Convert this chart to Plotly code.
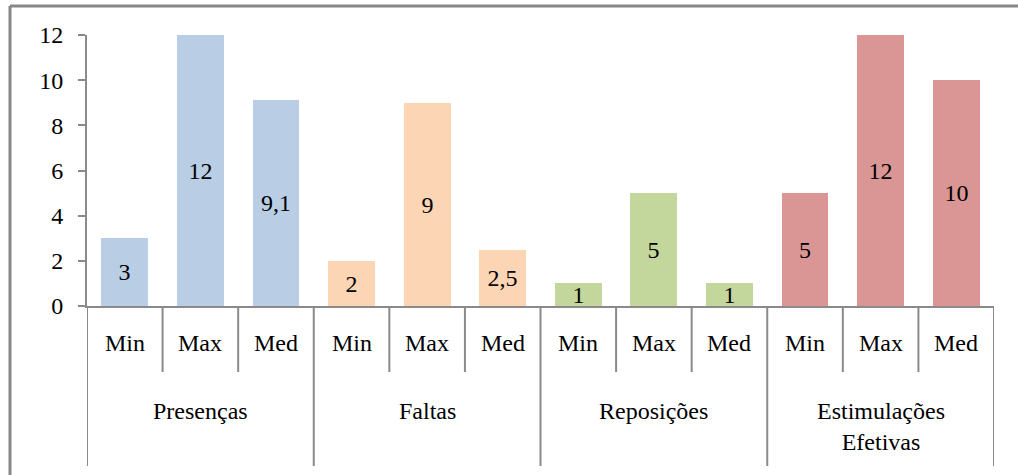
import plotly.graph_objects as go

groups = ["Presenças", "Faltas", "Reposições", "Estimulações<br>Efetivas"]
subs = ["Min", "Max", "Med"]
values = {
    "Presenças": [3, 12, 9.1],
    "Faltas": [2, 9, 2.5],
    "Reposições": [1, 5, 1],
    "Estimulações<br>Efetivas": [5, 12, 10],
}
colors = ["#B9CDE5", "#FCD5B5", "#C3D69B", "#D99694"]
y_ticks = [0, 2, 4, 6, 8, 10, 12]

W, H = 1018, 475
ML, MR, MT, MB = 87, 24, 35, 169
PW, PH = W - ML - MR, H - MT - MB
FONT = "Liberation Serif, Times New Roman, serif"
FS = 24
LINE = "#8a8a8a"


def px_x(p):
    return (p - ML) / PW


def px_y(p):
    return (H - MB - p) / PH


fig = go.Figure()
n = len(subs)
for gi, g in enumerate(groups):
    xs = [gi * n + i for i in range(n)]
    vals = values[g]
    fig.add_trace(go.Bar(
        x=xs, y=vals, width=0.62, marker=dict(color=colors[gi], line=dict(width=0)),
        text=[str(v).replace(".", ",") for v in vals],
        textposition="inside", insidetextanchor="middle", constraintext="none",
        textangle=0,
        textfont=dict(family=FONT, size=FS, color="black"),
        hoverinfo="skip", showlegend=False,
    ))

total = len(groups) * n
shapes = []
annotations = []
# sub-category separators and labels
for k in range(total + 1):
    x = k - 0.5
    is_group = (k % n == 0)
    shapes.append(dict(type="line", xref="x", yref="paper", x0=x, x1=x,
                       y0=0, y1=px_y(466) if is_group else px_y(372),
                       line=dict(color=LINE, width=2)))
for k in range(total):
    annotations.append(dict(x=k, y=px_y(343), xref="x", yref="paper",
                            text=subs[k % n], showarrow=False, yanchor="middle",
                            font=dict(family=FONT, size=FS, color="black")))
for gi, g in enumerate(groups):
    annotations.append(dict(x=gi * n + (n - 1) / 2, y=px_y(396), xref="x", yref="paper",
                            text=g, showarrow=False, yanchor="top",
                            font=dict(family=FONT, size=FS, color="black")))
# outer chart border (top and left edges visible)
shapes.append(dict(type="line", xref="paper", yref="paper", x0=px_x(10), x1=px_x(1030),
                   y0=px_y(6), y1=px_y(6), line=dict(color="#888888", width=3)))
shapes.append(dict(type="line", xref="paper", yref="paper", x0=px_x(10), x1=px_x(10),
                   y0=px_y(6), y1=px_y(480), line=dict(color="#888888", width=3)))

fig.update_layout(
    width=W, height=H, margin=dict(l=ML, r=MR, t=MT, b=MB),
    paper_bgcolor="white", plot_bgcolor="white",
    barmode="overlay", bargap=0,
    shapes=shapes, annotations=annotations,
    font=dict(family=FONT, size=FS, color="black"),
    xaxis=dict(range=[-0.5, total - 0.5], showticklabels=False, ticks="",
               showgrid=False, zeroline=False, showline=True, linecolor=LINE, linewidth=2),
    yaxis=dict(range=[0, 12], tickvals=y_ticks, ticks="outside", ticklen=7,
               tickcolor=LINE, tickwidth=2, showgrid=False, zeroline=False,
               showline=True, linecolor=LINE, linewidth=2, ticklabelstandoff=10,
               tickfont=dict(family=FONT, size=FS, color="black")),
)

fig.write_html("out.html")
